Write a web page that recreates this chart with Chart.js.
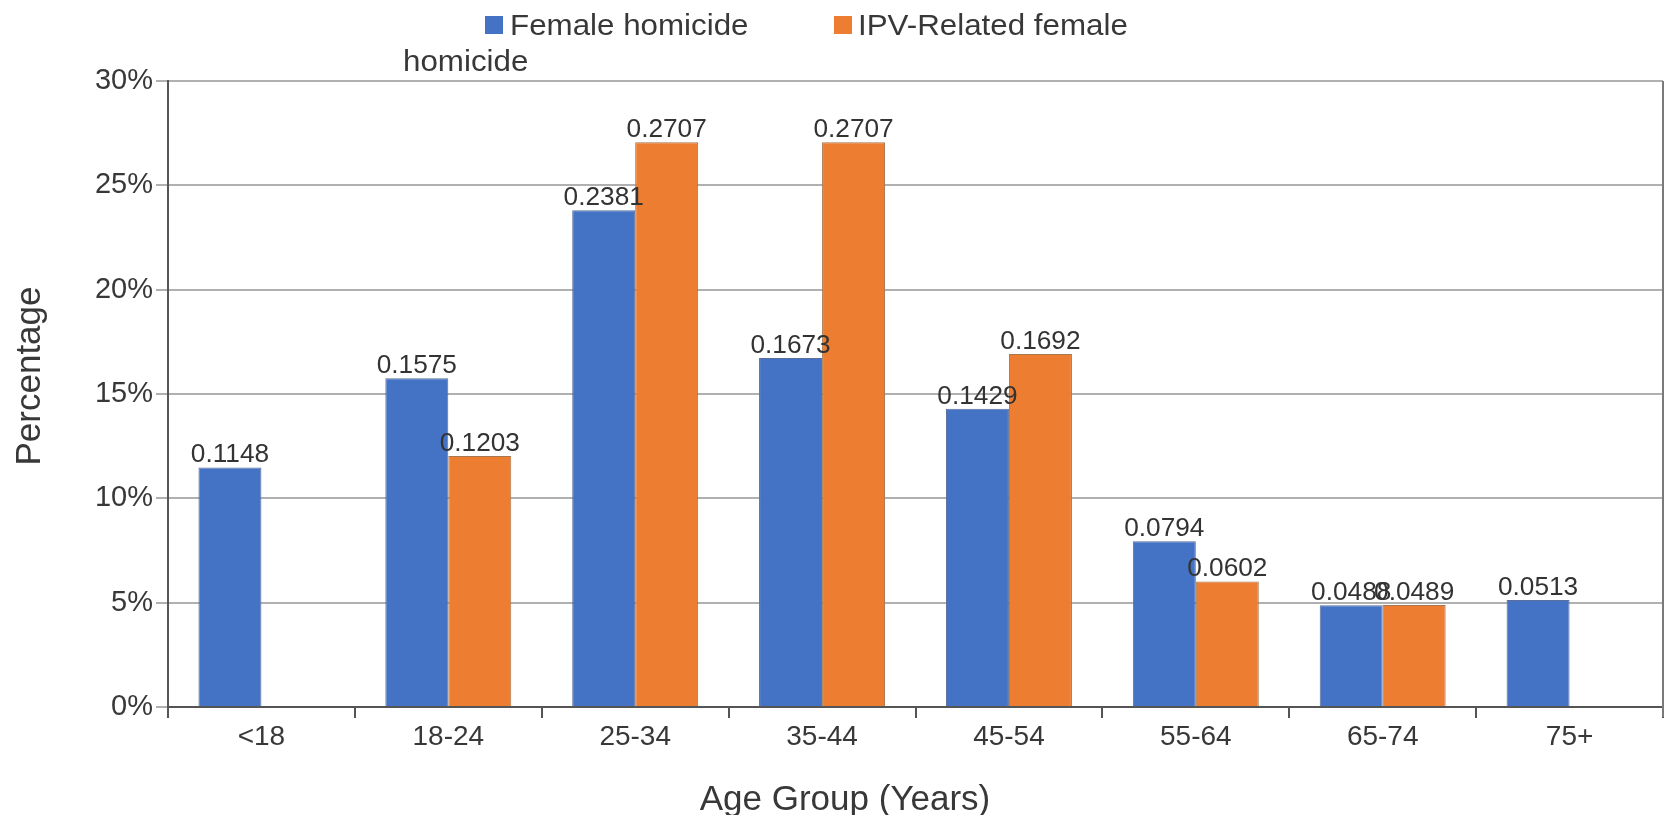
<!DOCTYPE html>
<html>
<head>
<meta charset="utf-8">
<script src="https://cdn.jsdelivr.net/npm/chart.js@4/dist/chart.umd.min.js"></script>
<style>
  html, body { margin: 0; padding: 0; background: #ffffff; }
  canvas { display: block; }
</style>
</head>
<body>
<canvas id="c" width="1671" height="815" style="width:1671px;height:815px"></canvas>
<script>
const categories = ['<18', '18-24', '25-34', '35-44', '45-54', '55-64', '65-74', '75+'];
const femaleHomicide = [0.1148, 0.1575, 0.2381, 0.1673, 0.1429, 0.0794, 0.0488, 0.0513];
const ipvRelatedHomicide = [null, 0.1203, 0.2707, 0.2707, 0.1692, 0.0602, 0.0489, null];
const seriesNames = ['Female homicide', 'IPV-Related female', 'homicide'];
const yTickValues = [0, 0.05, 0.10, 0.15, 0.20, 0.25, 0.30];
const axisTitles = { x: 'Age Group (Years)', y: 'Percentage' };

const BLUE = '#4472C4';
const ORANGE = '#ED7D31';
const TEXT = '#383838';
const FONT = '"Liberation Sans", Arial, sans-serif';

function stretchedText(ctx, text, x, y, sx, align) {
  ctx.save();
  ctx.translate(x, y);
  ctx.scale(sx, 1);
  ctx.textAlign = align || 'left';
  ctx.fillText(text, 0, 0);
  ctx.restore();
}

const decorPlugin = {
  id: 'decor',
  afterDatasetsDraw(chart) {
    const ctx = chart.ctx;
    const area = chart.chartArea;
    // right border of plot
    ctx.save();
    ctx.strokeStyle = '#7a7a7a';
    ctx.lineWidth = 2;
    ctx.beginPath();
    ctx.moveTo(area.right, area.top);
    ctx.lineTo(area.right, area.bottom + 10);
    ctx.stroke();
    ctx.restore();

    // data labels
    ctx.save();
    ctx.fillStyle = '#333333';
    ctx.font = '25px ' + FONT;
    ctx.textBaseline = 'alphabetic';
    chart.data.datasets.forEach((ds, di) => {
      const meta = chart.getDatasetMeta(di);
      meta.data.forEach((bar, i) => {
        const v = ds.data[i];
        if (v === null || v === undefined) return;
        stretchedText(ctx, v.toFixed(4), bar.x, bar.y - 5, 1.05, 'center');
      });
    });
    ctx.restore();
  },
  afterDraw(chart) {
    const ctx = chart.ctx;
    ctx.save();
    // legend
    ctx.font = '29px ' + FONT;
    ctx.textBaseline = 'alphabetic';
    ctx.fillStyle = BLUE;
    ctx.fillRect(485, 16, 18, 18);
    ctx.fillStyle = TEXT;
    stretchedText(ctx, seriesNames[0], 510, 35, 1.08, 'left');
    ctx.fillStyle = ORANGE;
    ctx.fillRect(834, 16, 18, 18);
    ctx.fillStyle = TEXT;
    stretchedText(ctx, seriesNames[1], 858, 35, 1.08, 'left');
    stretchedText(ctx, seriesNames[2], 403, 71, 1.08, 'left');

    // axis titles
    ctx.font = '35px ' + FONT;
    ctx.fillStyle = TEXT;
    ctx.textAlign = 'center';
    ctx.textBaseline = 'alphabetic';
    ctx.fillText(axisTitles.x, 845, 810);
    ctx.save();
    ctx.translate(40, 376);
    ctx.rotate(-Math.PI / 2);
    ctx.fillText(axisTitles.y, 0, 0);
    ctx.restore();
    ctx.restore();
  }
};

new Chart(document.getElementById('c'), {
  type: 'bar',
  data: {
    labels: categories,
    datasets: [
      {
        label: seriesNames[0],
        data: femaleHomicide,
        backgroundColor: BLUE,
        borderColor: '#5a6e99',
        borderWidth: 1,
        categoryPercentage: 0.674,
        barPercentage: 1.0
      },
      {
        label: seriesNames[1] + ' ' + seriesNames[2],
        data: ipvRelatedHomicide,
        backgroundColor: ORANGE,
        borderColor: '#a7774f',
        borderWidth: 1,
        categoryPercentage: 0.674,
        barPercentage: 1.0
      }
    ]
  },
  options: {
    responsive: false,
    animation: false,
    devicePixelRatio: 1,
    layout: { padding: { top: 81, right: 8, left: 0, bottom: 0 } },
    plugins: {
      legend: { display: false },
      tooltip: { enabled: false },
      title: { display: false }
    },
    scales: {
      x: {
        offset: true,
        afterFit(scale) { scale.height = 108; },
        grid: {
          display: true,
          offset: true,
          drawOnChartArea: false,
          drawTicks: true,
          tickLength: 11,
          color: '#555555',
          lineWidth: 2
        },
        border: { display: true, color: '#555555', width: 2 },
        ticks: {
          color: TEXT,
          font: { family: FONT, size: 28 },
          padding: 2,
          maxRotation: 0,
          autoSkip: false
        }
      },
      y: {
        min: 0,
        max: 0.3,
        afterFit(scale) { scale.width = 168; },
        afterBuildTicks(scale) { scale.ticks = yTickValues.map(v => ({ value: v })); },
        grid: {
          color: '#b0b0b0',
          lineWidth: 2,
          drawTicks: true,
          tickLength: 12
        },
        border: { display: true, color: '#555555', width: 2 },
        ticks: {
          color: TEXT,
          font: { family: FONT, size: 29 },
          padding: 3,
          callback: (v) => Math.round(v * 100) + '%'
        }
      }
    }
  },
  plugins: [decorPlugin]
});
</script>
</body>
</html>
